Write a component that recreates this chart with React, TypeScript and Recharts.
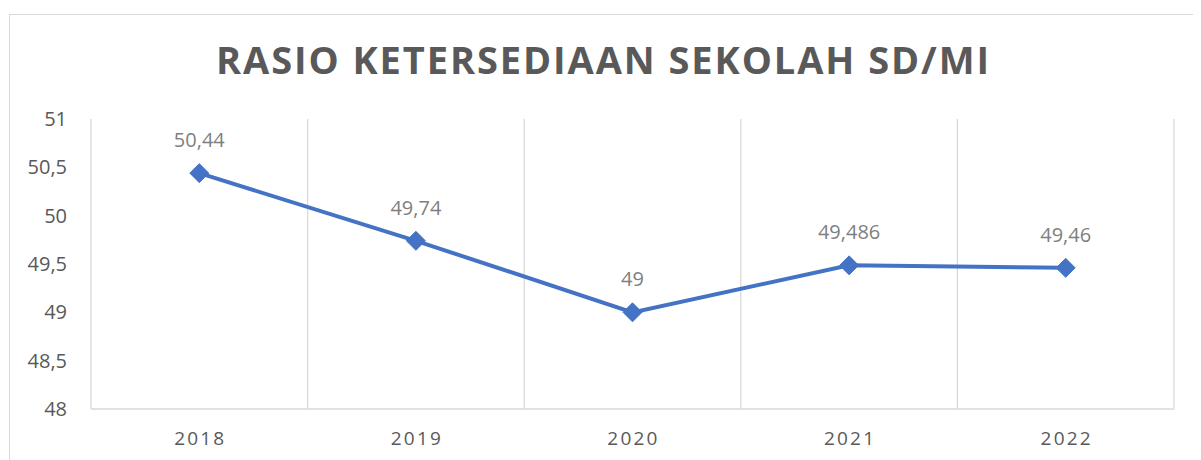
import React from "react";
import {
  ComposedChart,
  Line,
  XAxis,
  YAxis,
  CartesianGrid,
  LabelList,
} from "recharts";

const TITLE = "RASIO KETERSEDIAAN SEKOLAH SD/MI";
const years = ["2018", "2019", "2020", "2021", "2022"];
const ratios = [50.44, 49.74, 49, 49.486, 49.46];
const yTicks = [48, 48.5, 49, 49.5, 50, 50.5, 51];

const data = years.map((year, i) => ({ year, value: ratios[i] }));

const FONT = "'Open Sans', 'Noto Sans', sans-serif";
const fmt = (v: number | string) => String(v).replace(".", ",");

const Diamond = (props: any) => {
  const { cx, cy, index } = props;
  if (cx == null || cy == null) return null;
  const r = 9.5;
  return (
    <polygon
      key={`d-${index}`}
      points={`${cx},${cy - r} ${cx + r},${cy} ${cx},${cy + r} ${cx - r},${cy}`}
      fill="#4472C4"
      stroke="#4472C4"
      strokeWidth={1}
    />
  );
};

const XTick = (props: any) => {
  const { x, y, payload } = props;
  return (
    <text
      x={x + 1}
      y={y + 35.5}
      textAnchor="middle"
      fill="#595959"
      fontSize={19}
      fontFamily={FONT}
      style={{ letterSpacing: "2.2px" }}
    >
      {payload.value}
    </text>
  );
};

const YTick = (props: any) => {
  const { x, y, payload } = props;
  return (
    <text
      x={x}
      y={y + 7}
      textAnchor="end"
      fill="#595959"
      fontSize={20}
      fontFamily={FONT}
    >
      {fmt(payload.value)}
    </text>
  );
};

export default function App() {
  return (
    <div
      style={{
        position: "relative",
        width: 1193,
        height: 452,
        overflow: "hidden",
        background: "#fff",
      }}
    >
      <div
        style={{
          position: "absolute",
          left: 1,
          top: 6,
          width: 1400,
          height: 1000,
          borderLeft: "1px solid #d9d9d9",
          borderTop: "1px solid #d9d9d9",
          boxSizing: "border-box",
        }}
      />
      <svg
        width={1193}
        height={100}
        style={{ position: "absolute", left: 0, top: 0 }}
      >
        <text
          x={594.5}
          y={66}
          textAnchor="middle"
          fill="#595959"
          fontSize={38}
          fontWeight={700}
          fontFamily={FONT}
          textLength={773}
          lengthAdjust="spacing"
        >
          {TITLE}
        </text>
      </svg>
      <div style={{ position: "absolute", left: 0, top: 0 }}>
        <ComposedChart
          width={1193}
          height={452}
          data={data}
          margin={{ top: 111, right: 27, bottom: 0, left: 0 }}
        >
          <CartesianGrid
            horizontal={false}
            vertical={true}
            stroke="#d9d9d9"
            strokeWidth={1.3}
            verticalCoordinatesGenerator={({ offset }: any) =>
              years
                .map((_, i) => offset.left + (i * offset.width) / years.length)
                .concat([offset.left + offset.width])
            }
          />
          <XAxis
            dataKey="year"
            type="category"
            scale="band"
            height={51}
            axisLine={{ stroke: "#d9d9d9", strokeWidth: 1.3 }}
            tickLine={false}
            tickSize={0}
            tickMargin={0}
            tick={<XTick />}
            interval={0}
          />
          <YAxis
            type="number"
            domain={[48, 51]}
            ticks={yTicks}
            width={83}
            axisLine={false}
            tickLine={false}
            tickSize={0}
            tickMargin={24}
            tick={<YTick />}
            interval={0}
          />
          <Line
            type="linear"
            dataKey="value"
            stroke="#4472C4"
            strokeWidth={4}
            dot={Diamond}
            activeDot={false}
            isAnimationActive={false}
          >
            <LabelList
              dataKey="value"
              position="top"
              offset={26}
              fill="#7f7f7f"
              fontSize={20}
              fontFamily={FONT}
              formatter={fmt}
            />
          </Line>
        </ComposedChart>
      </div>
    </div>
  );
}
